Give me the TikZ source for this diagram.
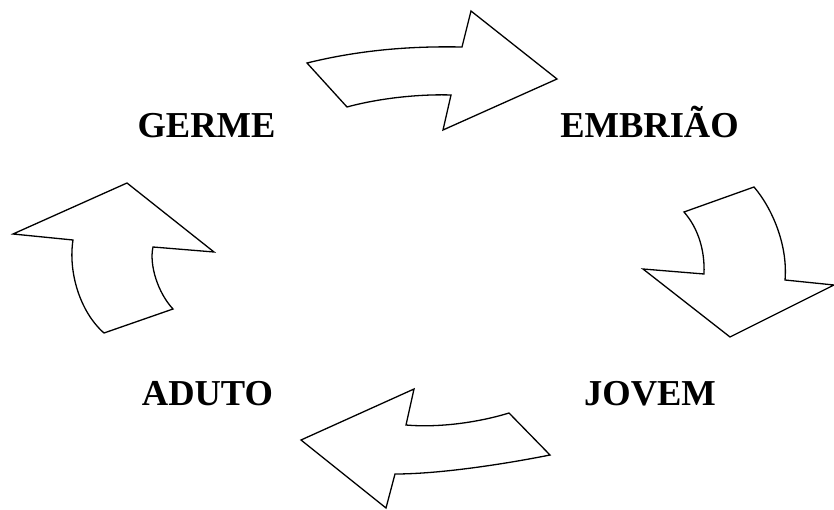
\documentclass[tikz,border=0pt]{standalone}
\usepackage{fontspec}
\setmainfont{Liberation Serif}
\begin{document}
\begin{tikzpicture}[x=1pt,y=-1pt,
  arr/.style={draw=black,line width=1.3pt,line join=miter,fill=white},
  stage/.style={anchor=base,inner sep=0pt,font=\fontsize{36.5}{40}\selectfont\bfseries}]
\useasboundingbox (0,0) rectangle (834,510);
% top arrow
\draw[arr] (307,63) .. controls (360,50) and (410,46) .. (462,47) -- (471,11) -- (557,79) -- (443,130) -- (451,95)
  .. controls (420,94) and (380,98) .. (347,107) -- cycle;
% right arrow
\draw[arr] (684,212) -- (754,187) .. controls (772,208) and (788,245) .. (785,280) -- (834,285) -- (730,337) -- (643,269) -- (704,274)
  .. controls (705,250) and (698,228) .. cycle;
% left arrow
\draw[arr] (127,183) -- (214,252) -- (153,247) .. controls (149,265) and (158,293) .. (173,309) -- (104,333)
  .. controls (80,312) and (68,272) .. (73,240) -- (13,234) -- cycle;
% bottom arrow
\draw[arr] (301,440) -- (414,389) -- (406,425) .. controls (440,428) and (480,422) .. (509,413) -- (550,455)
  .. controls (505,464) and (440,474) .. (395,474) -- (386,508) -- cycle;
\node[stage] (germe) at (206.5,138) {GERME};
\node[stage] (embriao) at (649.5,138) {EMBRIÃO};
\node[stage] (aduto) at (207.5,405) {ADUTO};
\node[stage] (jovem) at (650,405) {JOVEM};
\end{tikzpicture}
\end{document}
